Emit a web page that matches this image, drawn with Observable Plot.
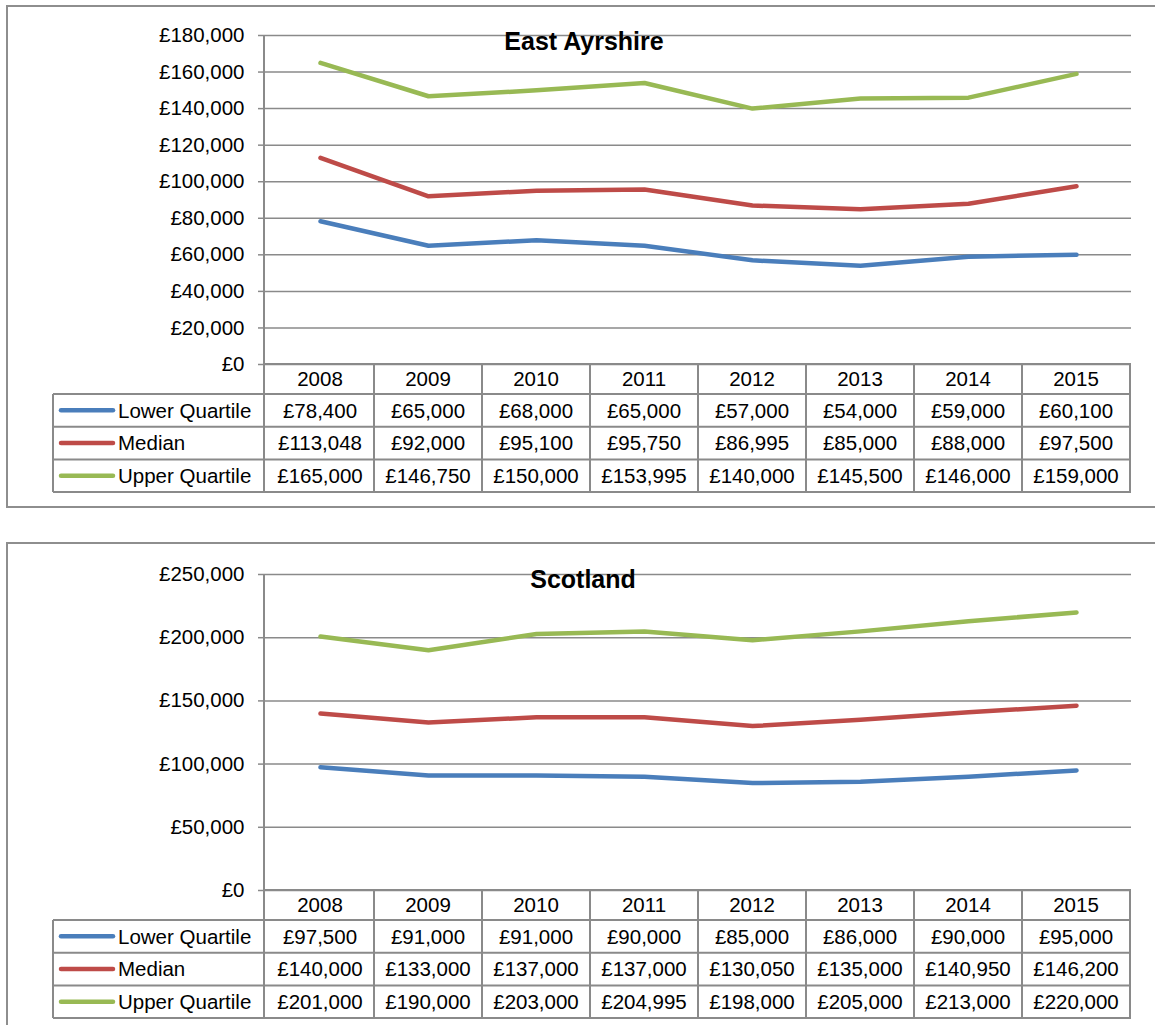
<!DOCTYPE html>
<html>
<head>
<meta charset="utf-8">
<script src="https://cdn.jsdelivr.net/npm/d3@7"></script>
<script src="https://cdn.jsdelivr.net/npm/@observablehq/plot@0.6"></script>
<style>
  html, body { margin: 0; padding: 0; background: #fff; overflow: hidden; }
  body { width: 1155px; height: 1025px; position: relative; font-family: "Liberation Sans", Arial, sans-serif; }
  .frame { position: absolute; left: 6px; width: 1250px; border: 2px solid #8e8e8e; box-sizing: border-box; }
  .chart { position: absolute; left: 0; }
  .title { position: absolute; width: 400px; text-align: center; font-weight: bold; font-size: 25px; line-height: 25px; color: #000; }
</style>
</head>
<body>
<div class="frame" style="top:5px;height:503px"></div>
<div class="frame" style="top:542px;height:600px"></div>
<div class="chart" id="c1" style="top:0px"></div>
<div class="chart" id="c2" style="top:538px"></div>
<div class="title" style="left:384px;top:29px">East Ayrshire</div>
<div class="title" style="left:383px;top:567px">Scotland</div>
<script>
// ---- data ----
const years = ["2008", "2009", "2010", "2011", "2012", "2013", "2014", "2015"];
const seriesNames = ["Lower Quartile", "Median", "Upper Quartile"];
const seriesColors = ["#4A7EBB", "#BE4B48", "#98B954"];

const eaLower  = [78400, 65000, 68000, 65000, 57000, 54000, 59000, 60100];
const eaMedian = [113048, 92000, 95100, 95750, 86995, 85000, 88000, 97500];
const eaUpper  = [165000, 146750, 150000, 153995, 140000, 145500, 146000, 159000];

const scLower  = [97500, 91000, 91000, 90000, 85000, 86000, 90000, 95000];
const scMedian = [140000, 133000, 137000, 137000, 130050, 135000, 140950, 146200];
const scUpper  = [201000, 190000, 203000, 204995, 198000, 205000, 213000, 220000];

const eaTicks = [0, 20000, 40000, 60000, 80000, 100000, 120000, 140000, 160000, 180000];
const scTicks = [0, 50000, 100000, 150000, 200000, 250000];

// ---- helpers ----
const money = d => "£" + d3.format(",")(d);
const FONT = "'Liberation Sans', Arial, sans-serif";
const GRID = "#8a8a8a";

function tidy(seriesArrays) {
  const out = [];
  seriesArrays.forEach((arr, s) => arr.forEach((v, i) => out.push({series: seriesNames[s], year: years[i], value: v})));
  return out;
}

function tableMark(seriesArrays, yMax) {
  return (index, scales, values, dimensions) => {
    const x = scales.x, y = scales.y;
    const bw = x.bandwidth();
    const x0 = dimensions.marginLeft;
    const x1 = dimensions.width - dimensions.marginRight;
    const y0 = y(0);
    const headerH = 30, rowH = 32.7;
    const labelLeft = x0 - 211;
    const bottom = y0 + headerH + rowH * seriesArrays.length;
    const g = d3.create("svg:g");
    const line = (xa, ya, xb, yb) => g.append("line")
      .attr("x1", xa).attr("y1", ya).attr("x2", xb).attr("y2", yb)
      .attr("stroke", GRID).attr("stroke-width", 2);
    // horizontal table lines
    line(x0, y0, x1, y0);
    for (let r = 0; r <= seriesArrays.length; r++) {
      const yy = y0 + headerH + rowH * r;
      line(labelLeft, yy, x1, yy);
    }
    // vertical lines
    line(x0, y(yMax), x0, bottom);
    line(labelLeft, y0 + headerH, labelLeft, bottom);
    years.forEach(yr => line(x(yr) + bw, y0, x(yr) + bw, bottom));
    // header
    years.forEach(yr => g.append("text")
      .attr("x", x(yr) + bw / 2).attr("y", y0 + headerH / 2).attr("dy", "0.35em")
      .attr("text-anchor", "middle").text(yr));
    // rows
    seriesArrays.forEach((arr, s) => {
      const cy = y0 + headerH + rowH * s + rowH / 2;
      g.append("line").attr("x1", labelLeft + 8).attr("x2", labelLeft + 60)
        .attr("y1", cy).attr("y2", cy)
        .attr("stroke", seriesColors[s]).attr("stroke-width", 4.5).attr("stroke-linecap", "round");
      g.append("text").attr("x", labelLeft + 65).attr("y", cy).attr("dy", "0.35em")
        .attr("text-anchor", "start").text(seriesNames[s]);
      arr.forEach((v, i) => g.append("text")
        .attr("x", x(years[i]) + bw / 2).attr("y", cy).attr("dy", "0.35em")
        .attr("text-anchor", "middle").text(money(v)));
    });
    return g.node();
  };
}

function chart(seriesArrays, ticks, opts) {
  const yMax = ticks[ticks.length - 1];
  return Plot.plot({
    width: 1155,
    height: opts.height,
    marginLeft: 264,
    marginRight: 24,
    marginTop: opts.marginTop,
    marginBottom: opts.marginBottom,
    style: {fontFamily: FONT, fontSize: "20.5px", color: "#000", background: "transparent", overflow: "visible"},
    x: {type: "band", domain: years, padding: 0, axis: null},
    y: {domain: [0, yMax], label: null},
    color: {domain: seriesNames, range: seriesColors},
    marks: [
      Plot.ruleY(ticks, {stroke: GRID, strokeWidth: 1.5}),
      Plot.axisY(ticks, {tickSize: 6, tickPadding: 14, tickFormat: money, stroke: GRID, strokeWidth: 1.5, fill: "#000", fontSize: 20.5, label: null}),
      tableMark(seriesArrays, yMax),
      Plot.line(tidy(seriesArrays), {x: "year", y: "value", z: "series", stroke: "series", strokeWidth: 4.5, strokeLinecap: "round", strokeLinejoin: "round"})
    ]
  });
}

document.getElementById("c1").append(
  chart([eaLower, eaMedian, eaUpper], eaTicks, {height: 500, marginTop: 35, marginBottom: 136})
);
document.getElementById("c2").append(
  chart([scLower, scMedian, scUpper], scTicks, {height: 487, marginTop: 36, marginBottom: 135})
);
</script>
</body>
</html>
